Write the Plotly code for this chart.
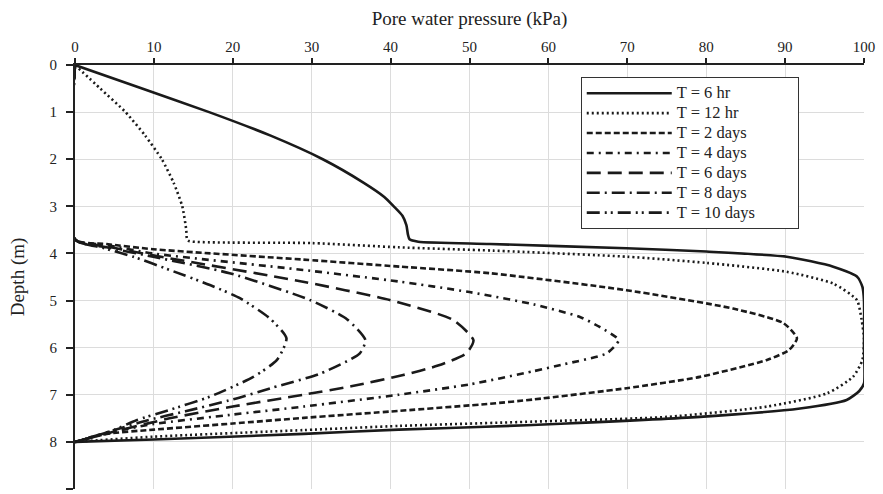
import plotly.graph_objects as go

# Depth (m) and pore water pressure (kPa) for each elapsed time
d_6hr = [0, 0.5, 1.0, 1.5, 2.0, 2.5, 2.8, 3.0, 3.2, 3.4, 3.6, 3.70, 3.75, 3.80, 3.89, 3.96, 4.07,
         4.28, 4.49, 4.71, 5.0, 6.0, 6.76, 6.92, 7.11, 7.29, 7.47, 7.61, 7.68, 7.74, 7.83, 7.95, 8.0]
p_6hr = [0, 8.5, 17.0, 24.8, 31.4, 36.6, 39.2, 40.4, 41.5, 42.0, 42.2, 42.4, 43.5, 52.6, 69.9, 80.0, 90.2,
         96.1, 99.1, 99.8, 100, 100, 100, 99.4, 97.8, 91.9, 79.2, 62.3, 52.0, 41.0, 29.0, 10.0, 0]

d_12hr = [0, 0.5, 1.0, 1.5, 2.0, 2.5, 3.0, 3.5, 3.70, 3.74, 3.78, 3.87, 3.94, 4.07, 4.20, 4.39,
          4.64, 4.99, 5.41, 5.8, 6.26, 6.62, 6.97, 7.25, 7.47, 7.57, 7.66, 7.75, 7.89, 8.0]
p_12hr = [0, 3.2, 6.4, 8.9, 11.0, 12.5, 13.6, 14.1, 14.2, 14.5, 30.0, 41.0, 53.0, 70.0, 80.0, 90.2,
          96.1, 99.1, 99.7, 100, 99.8, 98.6, 95.3, 87.7, 75.0, 58.0, 41.2, 28.9, 9.9, 0]

d_2d = [0, 3.70, 3.80, 3.91, 4.13, 4.28, 4.42, 4.78, 5.17, 5.48, 5.80, 6.05, 6.26, 6.62, 6.86,
        7.10, 7.19, 7.34, 7.49, 7.61, 7.74, 7.83, 8.0]
p_2d = [0, 0, 4.0, 9.9, 28.9, 41.2, 52.6, 69.9, 83.4, 89.8, 91.5, 90.5, 87.7, 79.2, 69.9,
        58.1, 52.6, 41.2, 29.0, 20.0, 10.0, 4.0, 0]

d_4d = [0, 3.70, 3.82, 4.00, 4.35, 4.60, 4.82, 5.08, 5.35, 5.56, 5.84, 6.12, 6.35, 6.50, 6.78,
        7.00, 7.25, 7.42, 7.62, 7.78, 8.0]
p_4d = [0, 0, 4.0, 9.9, 28.9, 41.2, 50.0, 58.1, 64.0, 66.5, 68.9, 67.4, 62.0, 58.1, 50.0,
        41.0, 29.0, 20.0, 10.0, 5.0, 0]

d_6d = [0, 3.70, 3.85, 4.04, 4.60, 4.99, 5.41, 5.84, 6.12, 6.38, 6.58, 6.82, 7.00, 7.25, 7.50, 7.78, 8.0]
p_6d = [0, 0, 4.0, 9.9, 28.9, 39.9, 47.9, 50.5, 49.6, 46.0, 41.6, 35.0, 28.9, 20.0, 12.0, 5.0, 0]

d_8d = [0, 3.70, 3.87, 4.07, 4.42, 4.99, 5.40, 5.84, 6.12, 6.55, 6.85, 7.10, 7.35, 7.55, 7.75, 8.0]
p_8d = [0, 0, 4.0, 9.9, 19.6, 29.8, 34.5, 36.8, 36.1, 31.1, 25.0, 20.0, 14.0, 9.0, 5.0, 0]

d_10d = [0, 3.70, 3.88, 4.07, 4.35, 4.67, 4.95, 5.38, 5.80, 6.26, 6.62, 7.04, 7.32, 7.54, 7.75, 8.0]
p_10d = [0, 0, 3.5, 7.4, 12.0, 17.1, 20.9, 24.7, 26.8, 25.6, 22.6, 17.1, 12.0, 7.8, 4.9, 0]

series = [
    ("T = 6 hr", p_6hr, d_6hr, "solid"),
    ("T = 12 hr", p_12hr, d_12hr, "2px,3px"),
    ("T = 2 days", p_2d, d_2d, "6px,3px"),
    ("T = 4 days", p_4d, d_4d, "7px,5px,2px,5px"),
    ("T = 6 days", p_6d, d_6d, "14px,7px"),
    ("T = 8 days", p_8d, d_8d, "13px,5px,2px,5px"),
    ("T = 10 days", p_10d, d_10d, "13px,5px,2px,4px,2px,5px"),
]

x_ticks = list(range(0, 101, 10))
y_ticks = list(range(0, 10))

FONT = "Liberation Serif, Times New Roman, serif"
INK = "#1a1a1a"
PAD = "\u00a0" * 9  # trailing room inside the legend frame

fig = go.Figure()
for name, p, d, dash in series:
    fig.add_trace(go.Scatter(
        x=p, y=d, mode="lines",
        # larger glyphs than the legend font so the rows stay compact
        name=f"<span style='font-size:16.5px'>{name}{PAD}</span>",
        line=dict(color=INK, width=2.6, dash=dash, shape="spline", smoothing=0.6),
    ))

fig.update_layout(
    width=883, height=494,
    margin=dict(l=75, r=19, t=65, b=5),
    paper_bgcolor="white", plot_bgcolor="white",
    font=dict(family=FONT, size=15, color="#222"),
    showlegend=True,
    legend=dict(
        x=0.641, y=0.971, xanchor="left", yanchor="top",
        bgcolor="white", bordercolor="#333", borderwidth=1,
        font=dict(family=FONT, size=13, color="#222"),
        itemwidth=85, tracegroupgap=0,
    ),
    xaxis=dict(
        side="top", range=[0, 100], tickvals=x_ticks,
        showgrid=True, gridcolor="#dcdcdc", gridwidth=1,
        showline=True, linecolor="#222", linewidth=2,
        ticks="outside", ticklen=5, tickcolor="#222", tickwidth=1.5,
        zeroline=False, tickfont=dict(family=FONT, size=15),
        title=dict(text="Pore water pressure (kPa)", font=dict(family=FONT, size=19), standoff=8),
    ),
    yaxis=dict(
        range=[9, 0], tickvals=y_ticks,
        showgrid=True, gridcolor="#dcdcdc", gridwidth=1,
        showline=True, linecolor="#222", linewidth=2,
        ticks="outside", ticklen=7, tickcolor="#222", tickwidth=1.5,
        zeroline=False, tickfont=dict(family=FONT, size=15), ticklabelstandoff=6,
        title=dict(text="Depth (m)", font=dict(family=FONT, size=19), standoff=20),
    ),
)

fig.write_html("out.html")
